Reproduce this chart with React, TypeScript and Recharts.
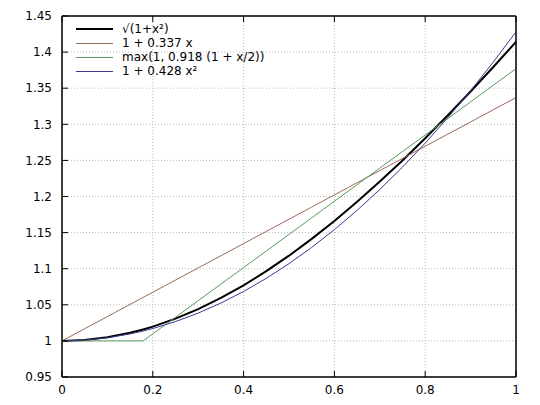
import { CartesianGrid, Line, LineChart, ReferenceArea, XAxis, YAxis } from "recharts";

// sample positions (0.1786 is where the green curve leaves 1)
const xs = [0, 0.05, 0.1, 0.15, 0.1786, 0.2, 0.25, 0.3, 0.35, 0.4, 0.45, 0.5, 0.55, 0.6, 0.65, 0.7, 0.75, 0.8, 0.85, 0.9, 0.95, 1];

const exact = [1, 1.00125, 1.00499, 1.01119, 1.01583, 1.0198, 1.03078, 1.04403, 1.05948, 1.07703, 1.09659, 1.11803, 1.14127, 1.16619, 1.19269, 1.22066, 1.25, 1.28062, 1.31244, 1.34536, 1.37931, 1.41421];
const linear = [1, 1.01685, 1.0337, 1.05055, 1.06019, 1.0674, 1.08425, 1.1011, 1.11795, 1.1348, 1.15165, 1.1685, 1.18535, 1.2022, 1.21905, 1.2359, 1.25275, 1.2696, 1.28645, 1.3033, 1.32015, 1.337];
const clipped = [1, 1, 1, 1, 1, 1.0098, 1.03275, 1.0557, 1.07865, 1.1016, 1.12455, 1.1475, 1.17045, 1.1934, 1.21635, 1.2393, 1.26225, 1.2852, 1.30815, 1.3311, 1.35405, 1.377];
const quad = [1, 1.00107, 1.00428, 1.00963, 1.01365, 1.01712, 1.02675, 1.03852, 1.05243, 1.06848, 1.08667, 1.107, 1.12947, 1.15408, 1.18083, 1.20972, 1.24075, 1.27392, 1.30923, 1.34668, 1.38627, 1.428];

const xTicks = [0, 0.2, 0.4, 0.6, 0.8, 1];
const yTicks = [0.95, 1, 1.05, 1.1, 1.15, 1.2, 1.25, 1.3, 1.35, 1.4, 1.45];

const series = [
  { key: "exact", name: "√(1+x²)", color: "#000000", width: 2 },
  { key: "linear", name: "1 + 0.337 x", color: "#9a6a58", width: 1 },
  { key: "clipped", name: "max(1, 0.918 (1 + x/2))", color: "#5a9a5a", width: 1 },
  { key: "quad", name: "1 + 0.428 x²", color: "#3a3a90", width: 1 },
];

const data = xs.map((x, i) => ({ x, exact: exact[i], linear: linear[i], clipped: clipped[i], quad: quad[i] }));

const font = { fontFamily: "DejaVu Sans", fontSize: 12, fill: "#000" };
const axisLine = { stroke: "#000", strokeWidth: 1 };
const tickLine = { stroke: "#000", strokeWidth: 1 };

function KeyBox() {
  return (
    <div style={{ position: "absolute", left: 76, top: 22, fontFamily: "DejaVu Sans", fontSize: 12, color: "#000" }}>
      {series.map((s) => (
        <div key={s.key} style={{ display: "flex", alignItems: "center", whiteSpace: "nowrap", height: 14 }}>
          <span style={{ display: "inline-block", width: 37, height: 0, borderTop: `${s.width}px solid ${s.color}`, marginRight: 9 }} />
          <span>{s.name}</span>
        </div>
      ))}
    </div>
  );
}

export default function App() {
  return (
    <div style={{ position: "absolute", left: 0, top: 0, width: 540, height: 405, background: "#fff" }}>
      <LineChart width={540} height={405} data={data} margin={{ top: 15, right: 23, bottom: 0, left: 0 }}>
        <CartesianGrid stroke="#bbbbbb" strokeDasharray="1 2" />
        <XAxis dataKey="x" type="number" domain={[0, 1]} ticks={xTicks} height={28}
          axisLine={axisLine} tickLine={tickLine} tick={font} tickSize={-6} tickMargin={14} />
        <XAxis xAxisId="top" orientation="top" dataKey="x" type="number" domain={[0, 1]} ticks={xTicks}
          height={1} axisLine={axisLine} tickLine={tickLine} tickSize={-6} tickFormatter={() => ""} />
        <YAxis type="number" domain={[0.95, 1.45]} ticks={yTicks} width={62}
          axisLine={axisLine} tickLine={tickLine} tick={font} tickSize={-6} tickMargin={16} />
        <YAxis yAxisId="right" orientation="right" type="number" domain={[0.95, 1.45]} ticks={yTicks}
          width={1} axisLine={axisLine} tickLine={tickLine} tickSize={-6} tickFormatter={() => ""} />
        <ReferenceArea x1={0} x2={1} y1={0.95} y2={1.45} fill="none" stroke="#000" strokeWidth={1} ifOverflow="visible" />
        {series.map((s) => (
          <Line key={s.key} type="linear" dataKey={s.key} name={s.name} stroke={s.color}
            strokeWidth={s.width} dot={false} isAnimationActive={false} />
        ))}
      </LineChart>
      <KeyBox />
    </div>
  );
}
